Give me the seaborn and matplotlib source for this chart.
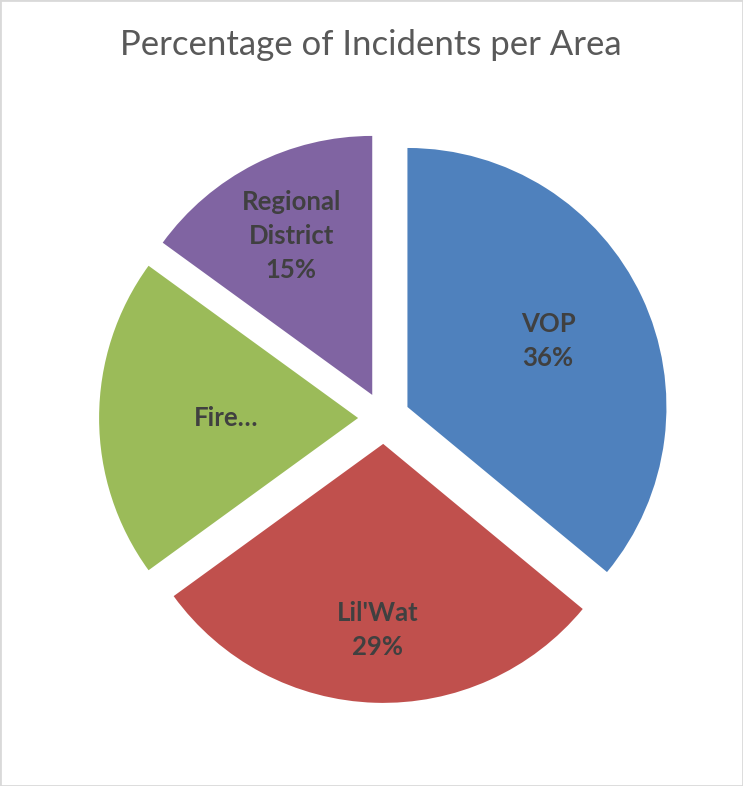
import numpy as np
import matplotlib
matplotlib.use("Agg")
import matplotlib.pyplot as plt
import seaborn as sns
from matplotlib.patches import Rectangle

# dados do grafico
areas = ["VOP", "Lil'Wat", "Fire\u2026", "Regional District"]
etiquetas = ["VOP\n36%", "Lil'Wat\n29%", "Fire\u2026", "Regional\nDistrict\n15%"]
percentuais = [36, 29, 20, 15]
cores = ["#4F81BD", "#C0504D", "#9BBB59", "#8064A2"]

sns.set_theme(style="white")
plt.rcParams["font.family"] = ["Lato", "DejaVu Sans"]

fig = plt.figure(figsize=(7.43, 7.86), dpi=100)
ax = fig.add_axes([0, 0, 1, 1])

fatias, _ = ax.pie(percentuais, colors=cores, startangle=90, counterclock=False,
                   explode=[0.1] * len(percentuais), radius=1,
                   wedgeprops=dict(linewidth=0))

# distancia do rotulo em relacao ao raio (best fit do excel)
dist_rotulo = [0.6, 0.72, 0.51, 0.69]
for fatia, txt, d in zip(fatias, etiquetas, dist_rotulo):
    ang = np.deg2rad((fatia.theta1 + fatia.theta2) / 2)
    cx, cy = fatia.center
    ax.text(cx + d * np.cos(ang), cy + d * np.sin(ang), txt, ha="center", va="center",
            fontsize=18.5, fontweight="bold", color="#404040", linespacing=1.5)

ax.set_aspect("auto")
ax.set_xlim(-384 / 259, (743 - 384) / 259)
ax.set_ylim(-368 / 259, 418 / 259)
ax.axis("off")

fig.text(371 / 743, 1 - 45 / 786, "Percentage of Incidents per Area", ha="center", va="center",
         fontsize=25, color="#595959")

fig.patches.append(Rectangle((0, 0), 1, 1, transform=fig.transFigure, fill=False,
                             edgecolor="#D9D9D9", linewidth=2))

fig.savefig("out.png", dpi=100)
